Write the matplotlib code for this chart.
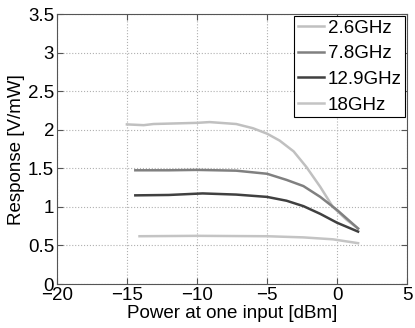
import matplotlib
matplotlib.use('Agg')
import matplotlib.pyplot as plt

plt.rcParams['font.family'] = ['Liberation Sans', 'DejaVu Sans']
plt.rcParams['font.size'] = 13.5

x_26 = [-15.0, -13.8, -13.1, -10.0, -9.1, -7.2, -6.0, -5.0, -4.1, -3.1, -2.2, -1.2, -0.3, 0.7, 1.5]
y_26 = [2.07, 2.06, 2.075, 2.09, 2.10, 2.075, 2.02, 1.95, 1.86, 1.72, 1.52, 1.26, 1.00, 0.83, 0.72]

x_78 = [-14.4, -12.0, -10.0, -7.2, -5.0, -3.6, -2.4, -1.2, 0.0, 1.5]
y_78 = [1.475, 1.475, 1.48, 1.47, 1.43, 1.35, 1.27, 1.13, 0.96, 0.72]

x_129 = [-14.4, -12.0, -9.6, -7.2, -5.0, -3.6, -2.4, -1.2, 0.0, 1.5]
y_129 = [1.15, 1.155, 1.175, 1.16, 1.13, 1.08, 1.01, 0.91, 0.795, 0.68]

x_18 = [-14.1, -10.0, -5.0, -2.4, -0.3, 1.5]
y_18 = [0.62, 0.625, 0.62, 0.605, 0.58, 0.53]

labels = ['2.6GHz', '7.8GHz', '12.9GHz', '18GHz']

fig = plt.figure(figsize=(4.15, 3.28), dpi=100)
ax = fig.add_axes([0.137, 0.134, 0.844, 0.823])

ax.plot(x_26, y_26, color='#c0c0c0', lw=1.8, label=labels[0])
ax.plot(x_78, y_78, color='#808080', lw=1.8, label=labels[1])
ax.plot(x_129, y_129, color='#404040', lw=1.8, label=labels[2])
ax.plot(x_18, y_18, color='#c4c4c4', lw=1.8, label=labels[3])

ax.set_xlim(-20, 5)
ax.set_ylim(0, 3.5)
ax.set_xticks([-20, -15, -10, -5, 0, 5])
ax.set_yticks([0, 0.5, 1, 1.5, 2, 2.5, 3, 3.5])
ax.set_yticklabels(['0', '0.5', '1', '1.5', '2', '2.5', '3', '3.5'])
ax.grid(True, linestyle=':', color='#b0b0b0', lw=0.8)
ax.tick_params(direction='in', top=True, right=True, length=4, color='#555555', pad=2)
for s in ax.spines.values():
    s.set_color('#555555')

ax.set_xlabel('Power at one input [dBm]', labelpad=1)
ax.set_ylabel('Response [V/mW]', labelpad=2)

leg = ax.legend(loc='upper right', fancybox=False, framealpha=1, edgecolor='black',
                borderaxespad=0.1, handlelength=1.4, handletextpad=0.2,
                labelspacing=0.45, borderpad=0.2)
leg.get_frame().set_linewidth(0.8)

fig.savefig('out.png', dpi=100)
